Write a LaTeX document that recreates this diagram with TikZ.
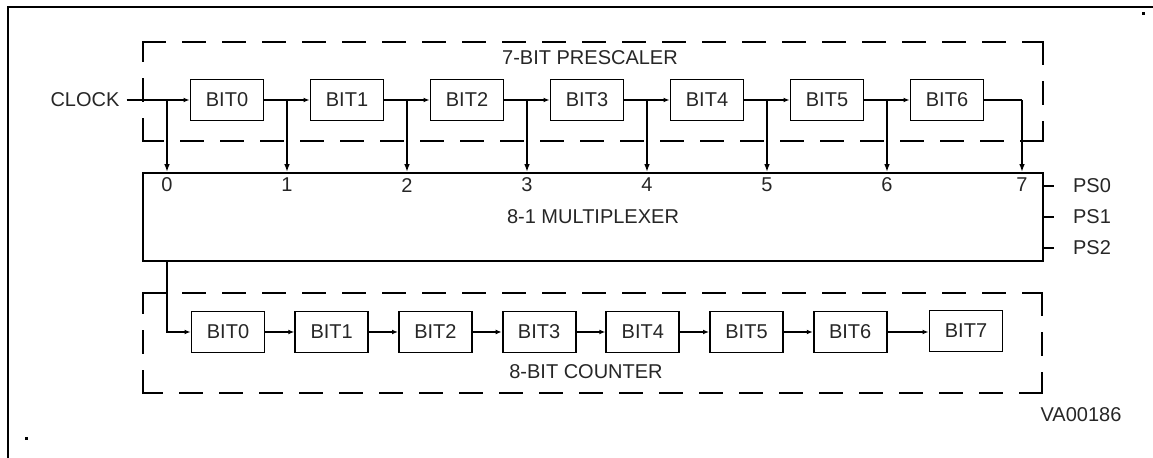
\documentclass[tikz,border=0pt]{standalone}
\usepackage{fontspec}
\setmainfont{Liberation Sans}
\usepackage{tikz}
\usetikzlibrary{arrows.meta,positioning,calc}
\tikzset{
  wire/.style={line width=0.85pt},
  tip/.style={wire, -{Latex[length=3pt,width=2.4pt]}},
  downtip/.style={wire, -{Latex[length=4pt,width=2.8pt]}},
  dashline/.style={line width=0.9pt, dash pattern=on 11pt off 9pt, line cap=rect},
  bitbox/.style={draw, line width=0.9pt, minimum width=36.5pt, minimum height=20.5pt, inner sep=0pt}
}

\begin{document}
\begin{tikzpicture}[x=0.5pt,y=-0.5pt, every node/.append style={font=\fontsize{10}{12}\selectfont, text=black!85}]
    \useasboundingbox (0,0) rectangle (1153,458);
    % frame
    \draw[line width=1.1pt] (1153,7) -- (8,7) -- (8,458);
    \fill (1142,12) rectangle (1145,15);
    \fill (25,437) rectangle (28,440);
    % prescaler
    \draw[dashline] (143,42) -- (1043,42) (1043,42) -- (1043,141)
      (1043,141) -- (143,141) (143,141) -- (143,42);
    \node at (590,58) {7-BIT PRESCALER};
    \node (clock) at (85,100) {CLOCK};
    \foreach \i in {0,...,6} {
      \node[bitbox] (p\i) at (227+120*\i,100) {BIT\i};
      \coordinate (t\i) at (167+120*\i,100);
    }
    \coordinate (t7) at (1022,100);
    % multiplexer
    \node[draw, line width=0.9pt, minimum width=450pt, minimum height=44pt, inner sep=0pt] (mux) at (593,217) {8-1 MULTIPLEXER};
    \draw[tip] (clock.east) -- (p0.west);
    \foreach \i in {1,...,6} {
      \pgfmathtruncatemacro{\j}{\i-1}
      \draw[tip] (p\j.east) -- (p\i.west);
    }
    \draw[wire] (p6.east) -- (t7);
    \foreach \i in {0,...,7} {
      \draw[downtip] (t\i) -- (t\i |- mux.north);
      \node (n\i) at ($(t\i |- mux.north)+(0,13)$) {\i};
    }
    \foreach \n/\y in {0/186,1/217,2/248} {
      \draw[wire] (mux.east |- 0,\y) -- ++(10,0);
      \node[anchor=west] (ps\n) at (1066,\y) {PS\n};
    }
    % counter
    \draw[dashline] (143,293) -- (1042,293) (1042,293) -- (1042,393)
      (1042,393) -- (143,393) (143,393) -- (143,293);
    \foreach \i in {0,...,6} {
      \node[bitbox] (c\i) at (228+103.7*\i,332) {BIT\i};
    }
    \node[bitbox] (c7) at (966,331) {BIT7};
    \coordinate (mo) at (167,332);
    \draw[tip] (t0 |- mux.south) -- (mo) -- (c0.west);
    \foreach \i in {1,...,7} {
      \pgfmathtruncatemacro{\j}{\i-1}
      \draw[tip] (c\j.east) -- (c\i.west |- c\j.east);
    }
    \node at (586,372) {8-BIT COUNTER};
    \node at (1081,415) {VA00186};
\end{tikzpicture}
\end{document}
